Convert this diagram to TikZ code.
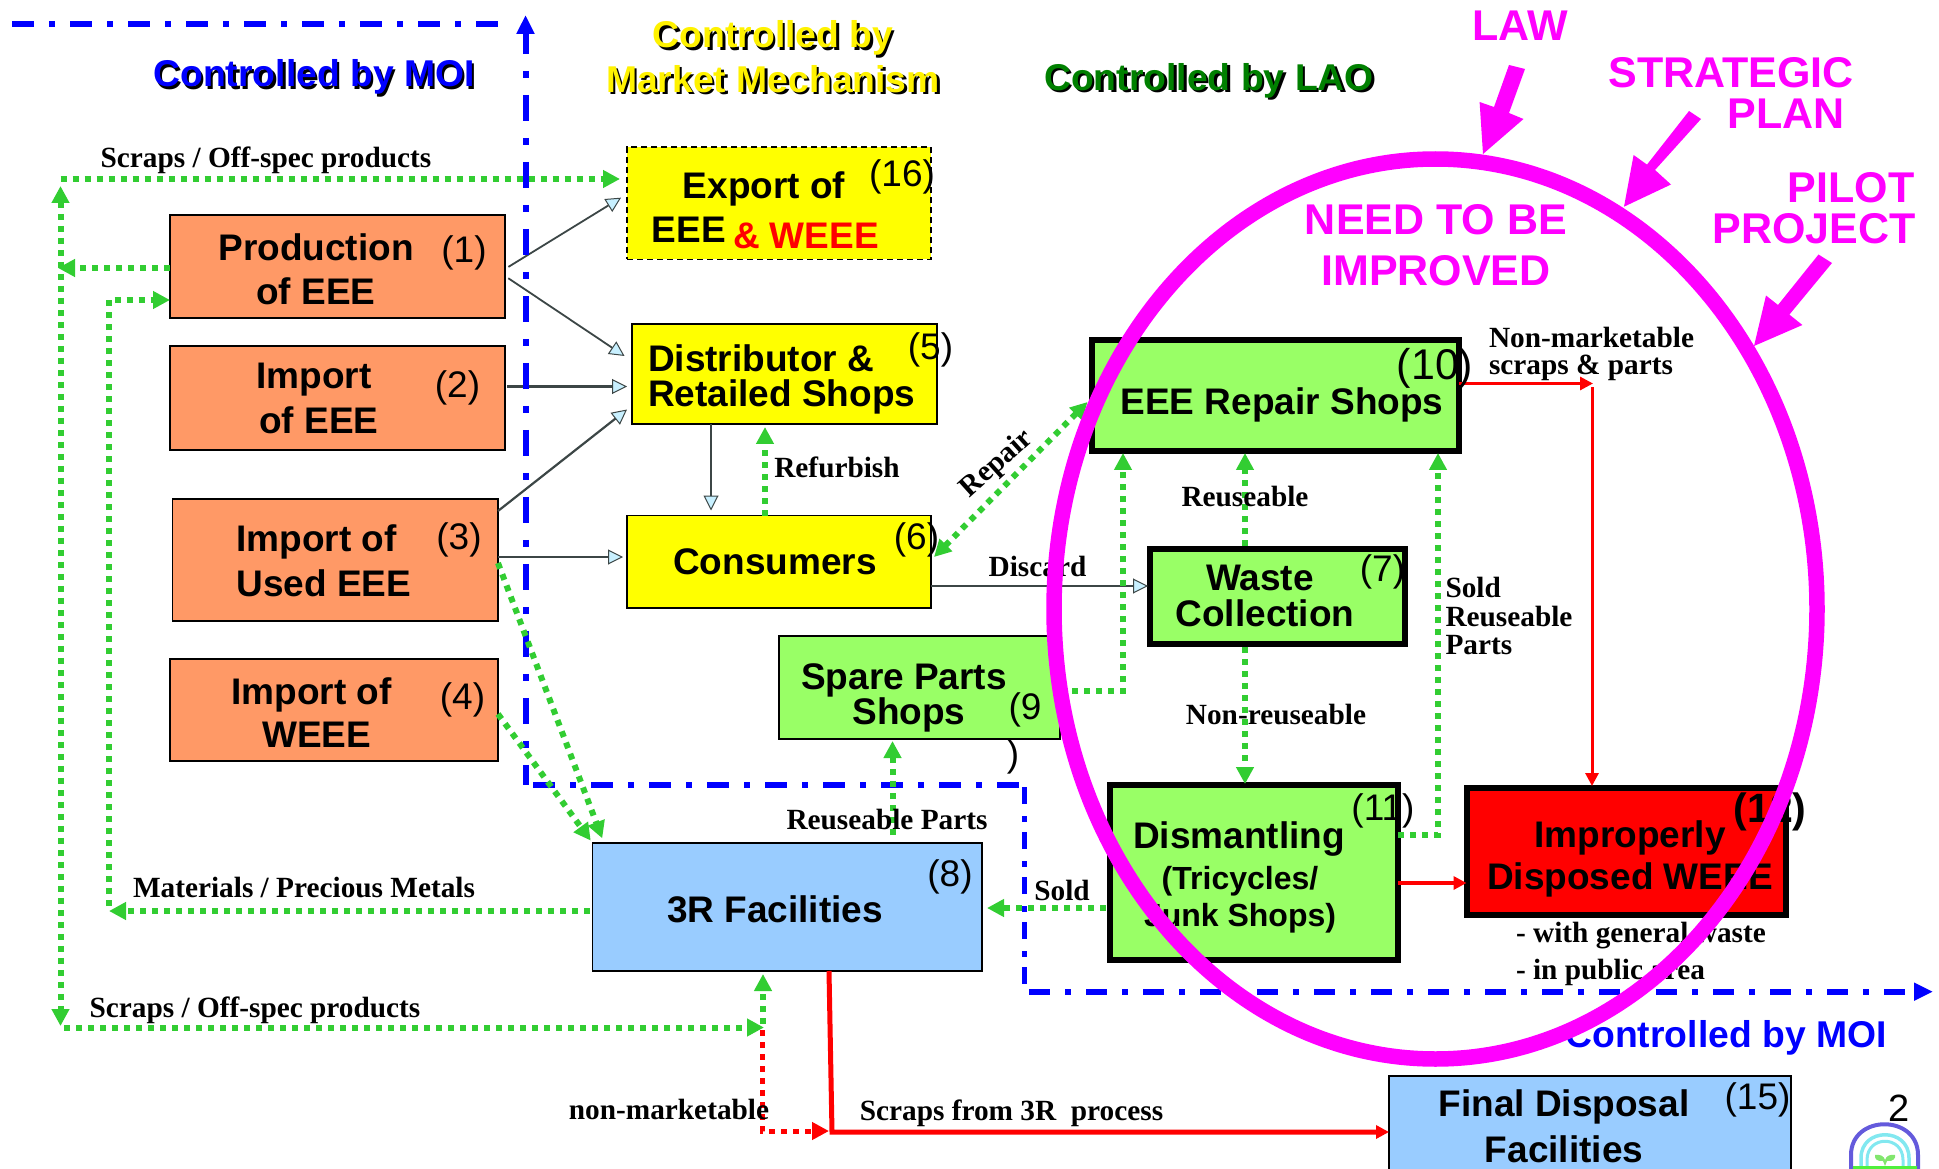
\documentclass[tikz,border=0pt]{standalone}
\usepackage{fontspec}
\setmainfont{Liberation Sans}
\newfontfamily\tms{Liberation Serif}
\usetikzlibrary{arrows.meta,calc}
\definecolor{orangebox}{RGB}{255,153,102}
\definecolor{yellowbox}{RGB}{255,255,0}
\definecolor{greenbox}{RGB}{153,255,102}
\definecolor{bluebox}{RGB}{153,204,255}
\definecolor{gline}{RGB}{50,205,50}
\definecolor{mag}{RGB}{255,0,255}
\definecolor{tipfill}{RGB}{200,240,255}
\definecolor{dgreen}{RGB}{0,128,0}
\definecolor{thinline}{RGB}{60,70,70}
\definecolor{logoa}{RGB}{100,90,220}
\definecolor{logob}{RGB}{130,232,240}
\definecolor{logoc}{RGB}{130,230,110}
\definecolor{logod}{RGB}{80,240,60}
\newcommand{\fs}[1]{\fontsize{#1}{#1}\selectfont}
\newcommand{\bx}[7]{\node[#2,minimum width={#5-#3-0.01},minimum height={#6-#4-0.01}] (#1) at ({(#3+#5)/2},{(#4+#6)/2}) {#7};}
\tikzset{
 every node/.style={inner sep=0pt,outer sep=0pt},
 box/.style={draw=black,line width=1.6pt},
 orng/.style={box,fill=orangebox},
 yelw/.style={box,fill=yellowbox},
 grn/.style={box,fill=greenbox},
 grnb/.style={draw=black,fill=greenbox,line width=6pt},
 blu/.style={box,fill=bluebox},
 big/.style={font=\fs{37}\bfseries,align=center},
 mid/.style={font=\fs{32}\bfseries,align=center},
 num/.style={font=\fs{37}},
 lab/.style={font=\fs{29.3}\tms\bfseries,align=left},
 mg/.style={font=\fs{43}\bfseries,text=mag},
 ttl/.style={font=\fs{37.3}\bfseries},
 gd/.style={draw=gline,line width=6pt,dash pattern=on 6pt off 6pt},
 gtip/.style={-{Triangle[length=17pt,width=17pt,fill=gline,color=gline]}},
 gtipb/.style={{Triangle[length=17pt,width=17pt,fill=gline,color=gline]}-{Triangle[length=17pt,width=17pt,fill=gline,color=gline]}},
 rd/.style={draw=red,-{Triangle[length=13pt,width=13pt,fill=red,color=red]}},
 flow/.style={draw=thinline,line width=2.2pt,-{Triangle[length=15pt,width=15pt,fill=tipfill,color=thinline,line width=1pt]}},
 flowthin/.style={flow,line width=1.8pt},
 bh/.style={draw=blue,line width=6pt,dash pattern=on 22pt off 15pt on 6pt off 15pt},
 bh2/.style={draw=blue,line width=6pt,dash pattern=on 21pt off 15pt on 6pt off 15pt},
 bv/.style={draw=blue,line width=6pt,dash pattern=on 26pt off 17pt on 7pt off 17pt,dash phase=5pt},
 bv2/.style={draw=blue,line width=5pt,dash pattern=on 17pt off 12pt on 5.5pt off 10.5pt},
}
\begin{document}
\begin{tikzpicture}[x=1pt,y=-1pt]
\useasboundingbox (0,0) rectangle (1939,1169);
% boxes
\bx{b1}{orng}{170}{215}{505}{318}{}
\bx{b2}{orng}{170}{346}{505}{450}{}
\bx{b3}{orng}{172.5}{499}{498}{621}{}
\bx{b4}{orng}{170}{659}{498}{761}{}
\bx{b16}{yelw,dashed,dash pattern=on 6pt off 4pt}{627}{147}{931}{259.5}{}
\bx{b5}{yelw}{632}{324}{937}{424}{}
\bx{b6}{yelw}{627}{515.5}{931}{608}{}
\bx{b9}{grn}{779}{636}{1060}{739}{}
\bx{b8}{blu}{592.5}{843}{982}{971}{}
\bx{b10}{grnb}{1092}{340}{1459}{451}{}
\bx{b7}{grnb}{1150}{549}{1405}{644}{}
\bx{b11}{grnb}{1110}{785}{1398}{960}{}
\bx{b12}{draw=black,fill=red,line width=6pt}{1466.5}{788}{1786}{915}{}
\bx{b15}{blu}{1389}{1076}{1791}{1180}{}
% flows between boxes
\draw[flowthin,shorten <=4pt,shorten >=7pt] (b1.east |- 0,269) -- (b16.west |- 0,194);
\draw[flowthin,shorten <=4pt,shorten >=9pt] (b1.east |- 0,276) -- (b5.west |- 0,361);
\draw[flow,shorten <=2pt,shorten >=5pt] (b2.east |- 0,386.5) -- (b5.west |- 0,386.5);
\draw[flow] (b3.east |- 0,511) -- (627,409.5);
\draw[flow,shorten >=4pt] (b3.east |- 0,557) -- (b6.west |- 0,557);
\draw[flowthin,shorten >=5pt] (b5.south -| 711,0) -- (b6.north -| 711,0);
\draw[flow,shorten >=2pt] (b6.east |- 0,586) -- (b7.west |- 0,586);
% blue region lines
\coordinate (ba) at (12,24.5);
\coordinate (bb) at (500,24.5);
\coordinate (bc) at (525.5,15);
\coordinate (bd) at (525.5,785);
\coordinate (be) at (533,785);
\coordinate (bf) at (1022,785);
\coordinate (bg) at (1024.3,787);
\coordinate (bh) at (1024.3,986);
\coordinate (bi) at (1029,991.7);
\coordinate (bj) at (1933,991.7);
\draw[bh] (ba) -- (bb);
\draw[bv,{Triangle[length=19pt,width=17pt,color=blue]}-] (bc) -- (bd);
\draw[bh] (be) -- (bf);
\draw[bv2] (bg) -- (bh);
\draw[bh2,-{Triangle[length=19pt,width=17pt,color=blue]}] (bi) -- (bj);
% green
\coordinate (g1) at (60.5,179);
\coordinate (g2) at (60.5,186);
\coordinate (g3) at (60.5,1026);
\coordinate (g4) at (64,1027.5);
\coordinate (g5) at (764,1027.5);
\coordinate (g6) at (108.7,300);
\coordinate (g7) at (108.7,906);
\coordinate (g8) at (109,911);
\coordinate (g9) at (1123,691);
\coordinate (g10) at (1438,835);
\coordinate (g11) at (58,268);
\draw[gd,gtip,shorten >=7pt] (g1) -- (b16.west |- g1);
\draw[gd,gtipb] (g2) -- (g3);
\draw[gd,gtip] (g4) -- (g5);
\draw[gd,gtip,shorten >=3pt] (763,1024) -- (b8.south -| 763,0);
\draw[gd,gtip] (b1.west |- g11) -- (g11);
\draw[gd,gtip] (g7) -- (g6) -- (b1.west |- g6);
\draw[gd,gtip,shorten <=3pt] (b8.west |- g8) -- (g8);
\draw[gd,gtip,shorten >=5pt] (b3.east |- 0,563) -- (b8.north -| 604,0);
\draw[gd,gtip,shorten >=3pt] (b4.east |- 0,714) -- (b8.north -| 592.5,0);
\draw[gd,gtip,shorten <=8pt,shorten >=2pt] (b8.north -| 892.5,0) -- (b9.south -| 892.5,0);
\draw[gd,gtip,shorten >=3pt] (b6.north -| 765,0) -- (b5.south -| 765,0);
\draw[gd,gtipb] (934,557) -- (1087.5,402);
\draw[gd,gtip,shorten >=2pt] (b9.east |- g9) -- (g9) -- (b10.south -| g9);
\draw[gd,gtip,shorten <=3pt,shorten >=2pt] (b7.north -| 1245,0) -- (b10.south -| 1245,0);
\draw[gd,gtip,shorten <=3pt,shorten >=1pt] (b7.south -| 1245,0) -- (b11.north -| 1245,0);
\draw[gd,gtip,shorten >=2pt] (b11.east |- g10) -- (g10) -- (b10.south -| g10);
\draw[gd,gtip,shorten <=4pt,shorten >=5pt] (b11.west |- 0,908) -- (b8.east |- 0,908);
% red
\coordinate (r1) at (1592,387);
\coordinate (r2) at (832,1132);
\coordinate (r3) at (762,1131);
\coordinate (r4) at (1593,383.5);
\draw[rd,line width=3pt] (b10.east |- r4) -- (r4);
\draw[rd,line width=3pt,shorten >=2pt] (r1) -- (b12.north -| r1);
\draw[rd,line width=4pt] (b11.east |- 0,883) -- (b12.west |- 0,883);
\draw[rd,line width=5pt] (b8.south -| 829,0) -- (r2) -- (b15.west |- r2);
\draw[red,line width=5pt,dash pattern=on 6pt off 6pt,-{Triangle[length=17pt,width=17pt,color=red]}] (762,1030) -- (r3) -- (829,1131);
% box text
\node[big] (t1a) at (316,247) {Production};
\node[big] (t1b) at (316,291) {of EEE};
\node[num] (n1) at (464,253) {(1)};
\node[big] (t2a) at (314,379.5) {Import};
\node[big] (t2b) at (319,420) {of EEE};
\node[num] (n2) at (457.5,387.5) {(2)};
\node[big] (t3a) at (316.5,541.5) {Import of};
\node[big] (t3b) at (324,583) {Used EEE};
\node[num] (n3) at (459,540) {(3)};
\node[big] (t4a) at (311.6,694.5) {Import of};
\node[big] (t4b) at (316.6,734.5) {WEEE};
\node[num] (n4) at (462.5,700) {(4)};
\node[big] (t16a) at (764,188.7) {Export of};
\node[big] (t16b) at (689,230) {EEE};
\node[big,text=red] (t16c) at (806,236) {\& WEEE};
\node[num] (n16) at (902,177) {(16)};
\node[big,anchor=west] (t5a) at (648,358.6) {Distributor \&};
\node[big,anchor=west] (t5b) at (648,397) {Retailed Shops};
\node[num] (n5) at (930.5,350) {(5)};
\node[big] (t6) at (775,561.6) {Consumers};
\node[num] (n6) at (916.5,540) {(6)};
\node[big] (t9a) at (904,680.5) {Spare Parts};
\node[big] (t9b) at (909,714.5) {Shops};
\node[num] (n9a) at (1025,710) {(9};
\node[num] (n9b) at (1013,757) {)};
\node[big] (t8) at (775,909) {3R Facilities};
\node[num] (n8) at (950,877) {(8)};
\node[big] (t10) at (1282,404.5) {EEE Repair Shops};
\node[font=\fs{43}] (n10) at (1435,368) {(10)};
\node[big] (t7a) at (1260,577.5) {Waste};
\node[big] (t7b) at (1265,613.4) {Collection};
\node[num] (n7) at (1382.5,572) {(7)};
\node[big] (t11a) at (1239,839.5) {Dismantling};
\node[mid] (t11b) at (1240,881.5) {(Tricycles/};
\node[mid] (t11c) at (1240,918.5) {Junk Shops)};
\node[num] (n11) at (1383,811) {(11)};
\node[big] (t12a) at (1630,837.5) {Improperly};
\node[big] (t12b) at (1630,879.5) {Disposed WEEE};
\node[font=\fs{41}\bfseries] (n12) at (1770,811.5) {(12)};
\node[big] (t15a) at (1564,1106.5) {Final Disposal};
\node[big] (t15b) at (1564,1149) {Facilities};
\node[num] (n15) at (1757.5,1100) {(15)};
\node[font=\fs{38}] (pg) at (1899,1108) {2};
% labels
\node[lab] (l1) at (266,160.5) {Scraps / Off-spec products};
\node[lab] (l2) at (304,888) {Materials / Precious Metals};
\node[lab] (l3) at (255,1010) {Scraps / Off-spec products};
\node[lab] (l4) at (837,467.5) {Refurbish};
\node[lab,rotate=42] (l5) at (997,464) {Repair};
\node[lab] (l6) at (1037.5,566) {Discard};
\node[lab] (l7) at (1245,497) {Reuseable};
\node[lab,anchor=west] (l8a) at (1489,337.6) {Non-marketable};
\node[lab,anchor=west] (l8b) at (1489,367.5) {scraps \& parts};
\node[lab,anchor=west] (l9a) at (1445.5,587) {Sold};
\node[lab,anchor=west] (l9b) at (1445.5,617) {Reuseable};
\node[lab,anchor=west] (l9c) at (1445.5,645) {Parts};
\node[lab] (l10) at (1276,715) {Non-reuseable};
\node[lab] (l11) at (887,820) {Reuseable Parts};
\node[lab] (l12) at (1062,890) {Sold};
\node[lab,anchor=west] (l13a) at (1516,936) {- with general waste};
\node[lab,anchor=west] (l13b) at (1516,972) {- in public area};
\node[lab] (l14) at (669,1109) {non-marketable};
\node[lab] (l15) at (1011.5,1113) {Scraps from 3R\ \ process};
% titles with shadow
\node[ttl,text=black] (s1) at (316.5,79.5) {Controlled by MOI};
\node[ttl,text=blue] (c1) at (314,77) {Controlled by MOI};
\node[ttl,text=black] (s2) at (775.5,40.5) {Controlled by};
\node[ttl,text=yellow] (c2) at (773,38) {Controlled by};
\node[ttl,text=black] (s3) at (775.5,81.5) {Market Mechanism};
\node[ttl,text=yellow] (c3) at (773,79) {Market Mechanism};
\node[ttl,text=black] (s4) at (1211.5,83) {Controlled by LAO};
\node[ttl,text=dgreen] (c4) at (1209,80.5) {Controlled by LAO};
\node[ttl,text=blue] (c5) at (1726,1038) {Controlled by MOI};
% magenta
\node[mg] (m1) at (1520,26) {LAW};
\node[mg] (m2) at (1731,73) {STRATEGIC};
\node[mg] (m3) at (1786,114) {PLAN};
\node[mg] (m4) at (1851,188) {PILOT};
\node[mg] (m5) at (1814,229) {PROJECT};
\node[mg] (m6) at (1436,220) {NEED TO BE};
\node[mg] (m7) at (1436,271) {IMPROVED};
\fill[mag] (1509,65) -- (1525,69) -- (1509,113) -- (1523.5,119) -- (1483,154) -- (1479.6,102) -- (1494,107) -- cycle;
\fill[mag] (1689,111) -- (1701,119) -- (1655,170) -- (1671,184.5) -- (1624,206.7) -- (1633.6,155) -- (1647,164.6) -- cycle;
\fill[mag] (1818.5,254.5) -- (1832,263) -- (1789.4,314.6) -- (1802.4,325) -- (1754,346) -- (1766,295.5) -- (1778,305) -- cycle;
\draw[mag,line width=15.5pt] (1435.5,609) ellipse [x radius=381.5,y radius=450];
% logo
\begin{scope}
\clip (1840,1110) rectangle (1939,1169);
\draw[logoa,line width=4pt] (1851,1172) -- (1851,1155) .. controls (1851,1114) and (1918,1114) .. (1918,1155) -- (1918,1172);
\draw[logob,line width=3.5pt] (1861,1172) -- (1861,1158) .. controls (1861,1127) and (1909,1127) .. (1909,1158) -- (1909,1172);
\draw[logob,line width=3pt] (1867,1172) -- (1867,1160) .. controls (1867,1135) and (1903,1135) .. (1903,1160) -- (1903,1172);
\fill[logoc] (1885,1166) -- (1883,1161) .. controls (1877,1162) and (1874,1158) .. (1875,1155) .. controls (1880,1154) and (1884,1156) .. (1885,1160) .. controls (1886,1156) and (1890,1154) .. (1895,1155) .. controls (1896,1158) and (1893,1162) .. (1887,1161) -- cycle;
\fill[logod] (1853,1166) rectangle (1917,1169);
\end{scope}
\end{tikzpicture}
\end{document}
